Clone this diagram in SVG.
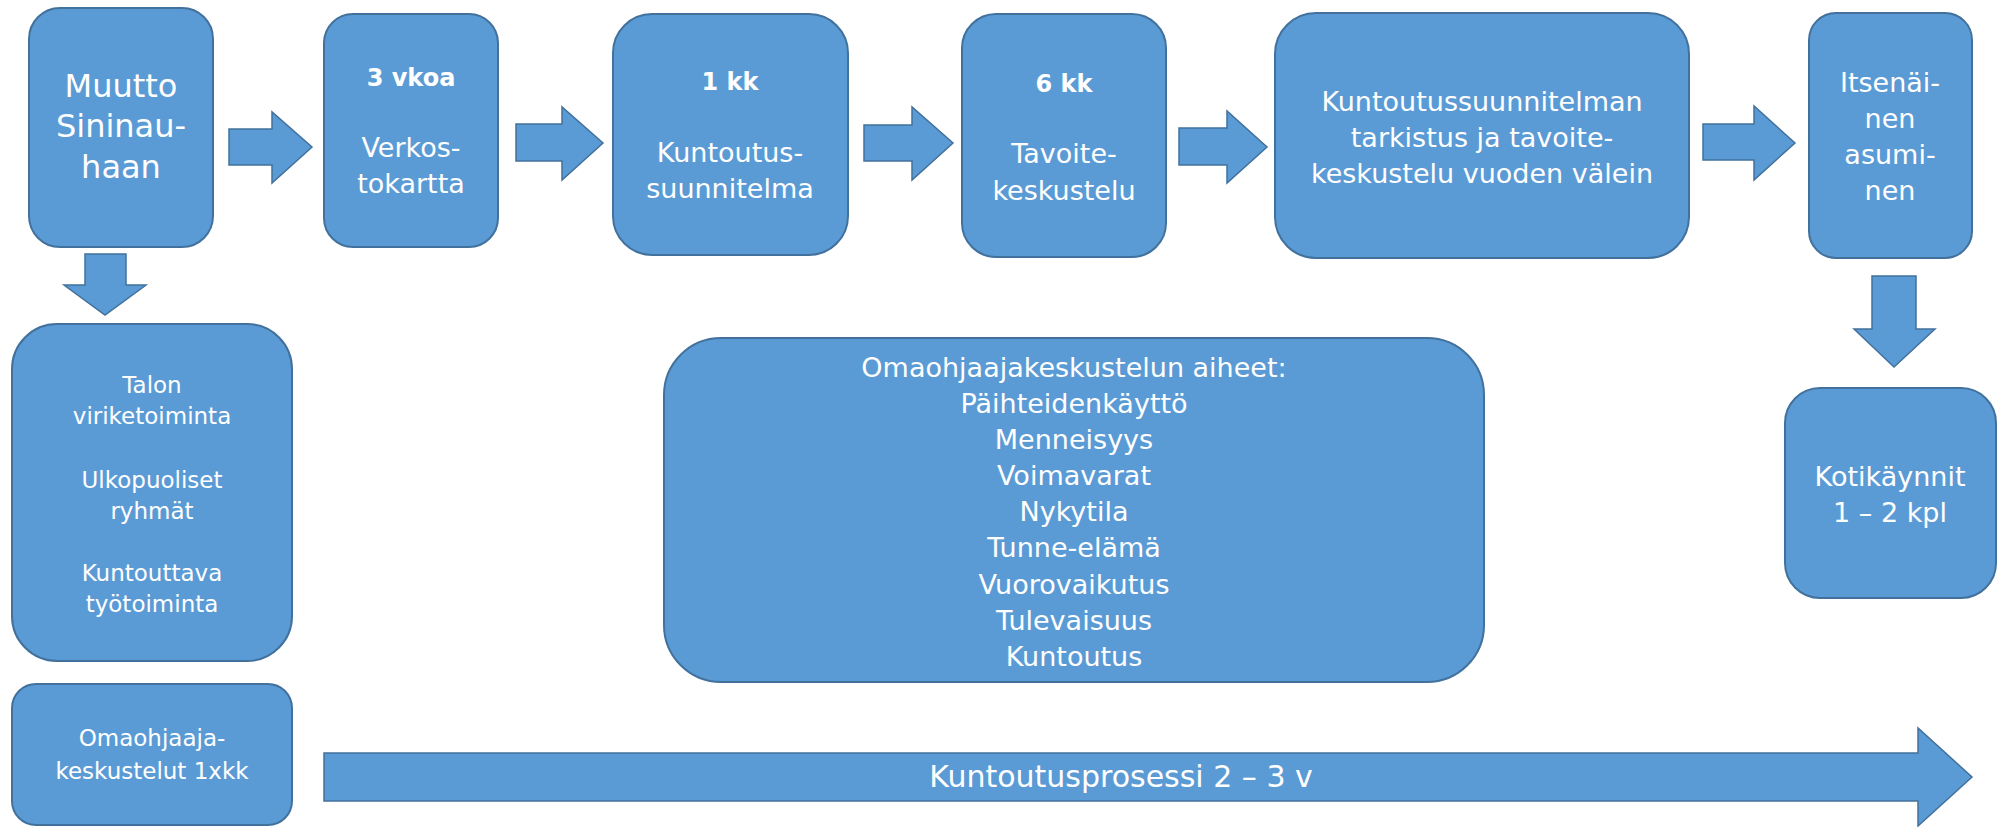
<svg xmlns="http://www.w3.org/2000/svg" width="2007" height="827" viewBox="0 0 2007 827">
<style>
.box{fill:#5B9BD5;stroke:#41719C;stroke-width:2}
.arr{fill:#5B9BD5;stroke:#41719C;stroke-width:1.5}
text{font-family:"DejaVu Sans","Liberation Sans",sans-serif;fill:#FFFFFF;text-anchor:middle}
.t27{font-size:27px}
.t32{font-size:32px}
.t23{font-size:23px}
.b{font-size:24px;font-weight:bold}
.t30{font-size:30px}
</style>
<rect width="2007" height="827" fill="#FFFFFF"/>
<g id="connectors">
<polygon class="arr" points="229,129 272,129 272,112 312,147 272,183 272,165 229,165"/>
<polygon class="arr" points="516,124 562,124 562,107 603,143 562,180 562,161 516,161"/>
<polygon class="arr" points="864,125 912,125 912,107 953,143 912,180 912,161 864,161"/>
<polygon class="arr" points="1179,128 1227,128 1227,111 1267,147 1227,183 1227,165 1179,165"/>
<polygon class="arr" points="1703,124 1754,124 1754,106 1795,143 1754,180 1754,160 1703,160"/>
<polygon class="arr" points="85,254 126,254 126,285 146,285 105,315 64,285 85,285"/>
<polygon class="arr" points="1872,276 1916,276 1916,329 1935,329 1894,367 1854,329 1872,329"/>
</g>
<g id="n-muutto">
<rect class="box" x="29" y="8" width="184" height="239" rx="31"/>
<text class="t32" x="121" y="97">Muutto</text>
<text class="t32" x="121" y="137">Sininau-</text>
<text class="t32" x="121" y="178">haan</text>
</g>
<g id="n-3vkoa">
<rect class="box" x="324" y="14" width="174" height="233" rx="29"/>
<text class="b" x="411" y="86">3 vkoa</text>
<text class="t27" x="411" y="157">Verkos-</text>
<text class="t27" x="411" y="193">tokartta</text>
</g>
<g id="n-1kk">
<rect class="box" x="613" y="14" width="235" height="241" rx="39"/>
<text class="b" x="730" y="90">1 kk</text>
<text class="t27" x="730" y="162">Kuntoutus-</text>
<text class="t27" x="730" y="198">suunnitelma</text>
</g>
<g id="n-6kk">
<rect class="box" x="962" y="14" width="204" height="243" rx="34"/>
<text class="b" x="1064" y="92">6 kk</text>
<text class="t27" x="1064" y="163">Tavoite-</text>
<text class="t27" x="1064" y="200">keskustelu</text>
</g>
<g id="n-tarkistus">
<rect class="box" x="1275" y="13" width="414" height="245" rx="41"/>
<text class="t27" x="1482" y="111">Kuntoutussuunnitelman</text>
<text class="t27" x="1482" y="147">tarkistus ja tavoite-</text>
<text class="t27" x="1482" y="183">keskustelu vuoden välein</text>
</g>
<g id="n-itsenainen">
<rect class="box" x="1809" y="13" width="163" height="245" rx="27"/>
<text class="t27" x="1890" y="92">Itsenäi-</text>
<text class="t27" x="1890" y="128">nen</text>
<text class="t27" x="1890" y="164">asumi-</text>
<text class="t27" x="1890" y="200">nen</text>
</g>
<g id="n-talon">
<rect class="box" x="12" y="324" width="280" height="337" rx="45"/>
<text class="t23" x="152" y="393">Talon</text>
<text class="t23" x="152" y="424">viriketoiminta</text>
<text class="t23" x="152" y="488">Ulkopuoliset</text>
<text class="t23" x="152" y="519">ryhmät</text>
<text class="t23" x="152" y="581">Kuntouttava</text>
<text class="t23" x="152" y="612">työtoiminta</text>
</g>
<g id="n-omaohjaaja">
<rect class="box" x="12" y="684" width="280" height="141" rx="24"/>
<text class="t23" x="152" y="746">Omaohjaaja-</text>
<text class="t23" x="152" y="779">keskustelut 1xkk</text>
</g>
<g id="n-aiheet">
<rect class="box" x="664" y="338" width="820" height="344" rx="57"/>
<text class="t27" x="1074" y="377">Omaohjaajakeskustelun  aiheet:</text>
<text class="t27" x="1074" y="413">Päihteidenkäyttö</text>
<text class="t27" x="1074" y="449">Menneisyys</text>
<text class="t27" x="1074" y="485">Voimavarat</text>
<text class="t27" x="1074" y="521">Nykytila</text>
<text class="t27" x="1074" y="557">Tunne-elämä</text>
<text class="t27" x="1074" y="594">Vuorovaikutus</text>
<text class="t27" x="1074" y="630">Tulevaisuus</text>
<text class="t27" x="1074" y="666">Kuntoutus</text>
</g>
<g id="n-kotikaynnit">
<rect class="box" x="1785" y="388" width="211" height="210" rx="35"/>
<text class="t27" x="1890" y="486">Kotikäynnit</text>
<text class="t27" x="1890" y="522">1 – 2 kpl</text>
</g>
<g id="n-prosessi">
<polygon class="arr" points="324,753 1918,753 1918,728 1972,777 1918,826 1918,801 324,801"/>
<text class="t30" x="1121" y="787">Kuntoutusprosessi 2 – 3 v</text>
</g>
</svg>
